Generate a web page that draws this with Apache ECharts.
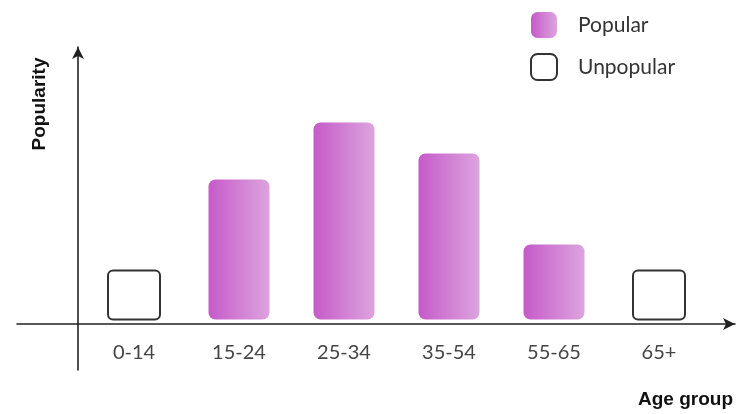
<!DOCTYPE html>
<html>
<head>
<meta charset="utf-8">
<script src="https://cdn.jsdelivr.net/npm/echarts@6/dist/echarts.min.js"></script>
<style>
html,body{margin:0;padding:0;background:#fff;}
#chart{width:756px;height:414px;}
</style>
</head>
<body>
<div id="chart"></div>
<script>
var categories = ['0-14', '15-24', '25-34', '35-54', '55-65', '65+'];
var popularValues = [null, 70, 98.5, 83, 37.5, null];
var unpopularValues = [25, null, null, null, null, 25];
var seriesNames = ['Popular', 'Unpopular'];
var xAxisTitle = 'Age group';
var yAxisTitle = 'Popularity';

var chart = echarts.init(document.getElementById('chart'), null, {renderer: 'canvas'});

var popGradient = new echarts.graphic.LinearGradient(0, 0, 1, 0, [
  {offset: 0, color: '#c65ac9'},
  {offset: 1, color: '#dca4de'}
]);

var unpopularData = [];
for (var i = 0; i < categories.length; i++) {
  if (unpopularValues[i] != null) unpopularData.push([i, unpopularValues[i]]);
}

var option = {
  backgroundColor: '#ffffff',
  animation: false,
  title: {
    text: xAxisTitle,
    left: 638,
    top: 390,
    padding: 0,
    textStyle: {fontFamily: 'Liberation Sans', fontWeight: 'bold', fontSize: 19, color: '#111'}
  },
  legend: {
    orient: 'vertical',
    left: 530,
    top: 12,
    padding: 0,
    itemWidth: 26,
    itemHeight: 26,
    itemGap: 15,
    selectedMode: false,
    textStyle: {fontFamily: 'Lato', fontSize: 21, color: '#333', padding: [0, 0, 0, 16]},
    data: [
      {name: seriesNames[0], icon: 'roundRect', itemStyle: {color: popGradient}},
      {name: seriesNames[1], icon: 'roundRect', itemStyle: {color: '#fff', borderColor: '#333', borderWidth: 2}}
    ]
  },
  graphic: [{
    type: 'text',
    x: 40,
    y: 104,
    rotation: Math.PI / 2,
    style: {
      text: yAxisTitle,
      fontFamily: 'Liberation Sans',
      fontWeight: 'bold',
      fontSize: 19,
      fill: '#111',
      align: 'center',
      verticalAlign: 'middle'
    }
  }],
  grid: [
    {left: 81.5, right: 44.5, top: 119.5, bottom: 94.5},
    {left: 17, right: 21, top: 47, bottom: 44}
  ],
  xAxis: [
    {
      type: 'category',
      gridIndex: 0,
      data: categories,
      axisLine: {show: false},
      axisTick: {show: false},
      axisLabel: {margin: 23, fontFamily: 'Lato', fontSize: 20, color: '#444'}
    },
    {
      type: 'value',
      gridIndex: 1,
      min: -61,
      max: 657,
      splitLine: {show: false},
      axisTick: {show: false},
      axisLabel: {show: false},
      axisLine: {show: true, onZero: true, symbol: ['none', 'arrow'], symbolSize: [9, 12], lineStyle: {color: '#222', width: 1.6}}
    }
  ],
  yAxis: [
    {
      type: 'value',
      gridIndex: 0,
      min: 0,
      max: 100,
      show: false
    },
    {
      type: 'value',
      gridIndex: 1,
      min: -46,
      max: 277,
      splitLine: {show: false},
      axisTick: {show: false},
      axisLabel: {show: false},
      axisLine: {show: true, onZero: true, symbol: ['none', 'arrow'], symbolSize: [9, 12], lineStyle: {color: '#222', width: 1.6}}
    }
  ],
  series: [
    {
      name: seriesNames[0],
      type: 'bar',
      xAxisIndex: 0,
      yAxisIndex: 0,
      barWidth: 61,
      data: popularValues,
      itemStyle: {color: popGradient, borderRadius: 7}
    },
    {
      name: seriesNames[1],
      type: 'custom',
      xAxisIndex: 0,
      yAxisIndex: 0,
      data: unpopularData,
      encode: {x: 0, y: 1},
      itemStyle: {color: '#fff', borderColor: '#333', borderWidth: 2},
      renderItem: function (params, api) {
        var top = api.coord([api.value(0), api.value(1)]);
        var base = api.coord([api.value(0), 0]);
        var w = 52;
        return {
          type: 'rect',
          shape: {x: top[0] - w / 2, y: top[1] + 1, width: w, height: base[1] - top[1] - 1, r: 5},
          style: {fill: '#fff', stroke: '#333', lineWidth: 2}
        };
      }
    }
  ]
};
chart.setOption(option);
</script>
</body>
</html>
